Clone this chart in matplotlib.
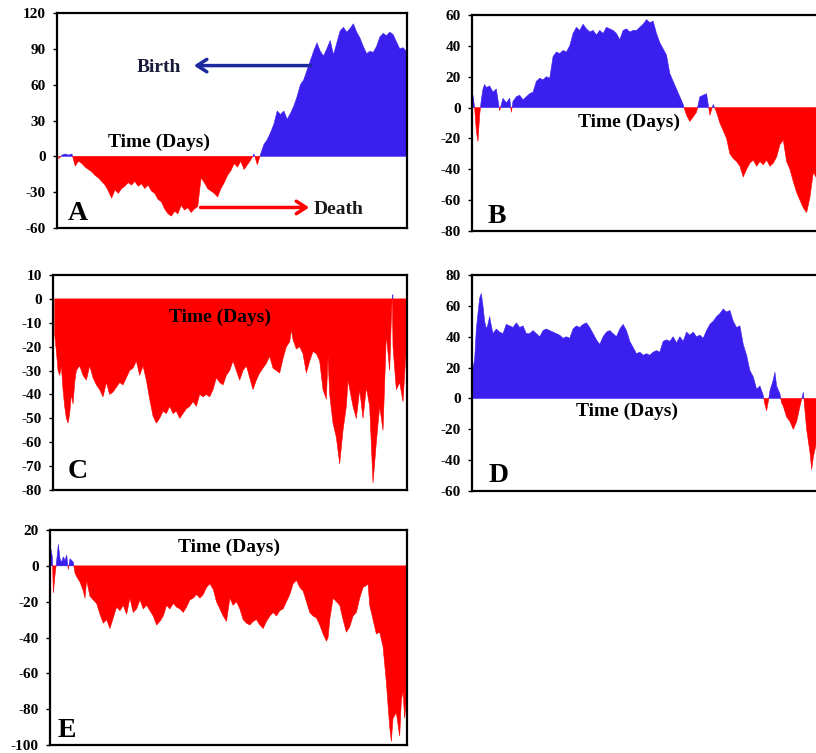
import numpy as np
import matplotlib
matplotlib.use("Agg")
import matplotlib.pyplot as plt

plt.rcParams['font.family'] = ['Liberation Serif', 'DejaVu Serif']
plt.rcParams['axes.unicode_minus'] = False

# ---- data (t = time position, v = net value) ----
a_t = list(range(170, 1221, 10))
a_v = [-2, 1, 2, 1, 2, -8, -4, -6, -9, -11, -13, -16, -18, -21, -24, -29, -35, -28,
       -31, -27, -25, -22, -24, -21, -25, -23, -27, -24, -29, -31, -36, -38, -44, -48,
       -50, -46, -48, -41, -45, -43, -47, -44, -42, -18, -22, -27, -29, -31, -34, -27,
       -22, -16, -12, -6, -9, -4, -11, -7, -3, 2, -7, 2, 10, 14, 20, 27, 38, 35, 38,
       31, 36, 42, 50, 60, 64, 72, 80, 88, 95, 88, 84, 90, 97, 85, 95, 105, 108, 104,
       107, 111, 104, 99, 92, 86, 88, 87, 92, 100, 103, 101, 104, 102, 96, 90, 91, 88]

b_t = [160, 165, 170, 175, 180, 185, 190, 195, 200, 210, 220, 230, 240, 250, 260, 270,
       275, 280, 290, 300, 310, 320, 330, 340, 350, 360, 370, 380, 390, 400, 410, 420,
       430, 440, 450, 460, 470, 480, 490, 500, 510, 520, 530, 540, 550, 560, 570, 580,
       590, 600, 610, 620, 630, 640, 650, 660, 670, 680, 690, 700, 710, 720, 730, 740,
       750, 760, 770, 780, 790, 800, 810, 820, 830, 840, 850, 860, 870, 880, 890, 900,
       910, 920, 930, 940, 950, 960, 970, 980, 990, 1000, 1010, 1020, 1030, 1040, 1050,
       1060, 1070, 1080, 1090, 1100, 1110, 1120, 1130, 1140, 1150, 1160, 1170, 1180, 1188]
b_v = [8, 0, -15, -22, -5, 5, 12, 15, 13, 14, 10, 12, -2, 6, 3, 6, -3, 4, 7, 8, 5, 7, 9,
       10, 17, 19, 18, 20, 19, 33, 36, 35, 37, 36, 40, 48, 52, 50, 54, 51, 49, 50, 47, 50,
       48, 52, 51, 50, 48, 44, 50, 51, 49, 50, 50, 52, 54, 57, 55, 56, 48, 42, 38, 34, 22,
       17, 12, 7, 2, -5, -9, -6, -3, 7, 8, 9, -5, 2, -3, -10, -15, -20, -30, -33, -35,
       -38, -45, -40, -36, -34, -38, -35, -37, -34, -38, -36, -32, -24, -21, -35, -40,
       -48, -55, -60, -65, -68, -58, -42, -45]

c_t = [165, 170, 175, 180, 185, 190, 195, 200, 205, 210, 215, 220, 225, 230, 240, 250,
       260, 270, 280, 290, 300, 310, 320, 330, 340, 350, 360, 370, 380, 390, 400, 410,
       420, 430, 440, 450, 460, 470, 480, 490, 500, 510, 520, 530, 540, 550, 560, 570,
       580, 590, 600, 610, 620, 630, 640, 650, 660, 670, 680, 690, 700, 710, 720, 730,
       740, 750, 760, 770, 780, 790, 800, 810, 820, 830, 840, 850, 860, 870, 875, 880,
       890, 900, 910, 920, 930, 940, 950, 960, 970, 980, 985, 990, 1000, 1010, 1020,
       1030, 1040, 1045, 1060, 1070, 1080, 1090, 1100, 1110, 1120, 1130, 1140, 1150,
       1160, 1170, 1175, 1178, 1180, 1190, 1200, 1210, 1220]
c_v = [-15, -22, -30, -32, -28, -38, -45, -50, -52, -48, -40, -44, -35, -30, -28, -32,
       -34, -28, -33, -36, -38, -41, -35, -40, -39, -37, -35, -36, -33, -30, -29, -26,
       -32, -28, -34, -42, -49, -52, -50, -47, -48, -45, -48, -47, -50, -48, -46, -45,
       -43, -45, -40, -41, -40, -41, -38, -33, -35, -36, -32, -30, -26, -30, -34, -30,
       -28, -33, -38, -34, -31, -29, -27, -24, -29, -30, -31, -25, -20, -18, -13, -17,
       -21, -20, -23, -31, -26, -22, -23, -26, -38, -42, -24, -40, -52, -58, -69, -55,
       -45, -34, -45, -50, -38, -50, -37, -45, -77, -60, -45, -55, -15, -30, -8, 2, -20,
       -38, -35, -43, -20]

d_t = [160, 165, 170, 175, 180, 185, 190, 195, 200, 205, 210, 215, 220, 230, 240, 250,
       260, 270, 280, 290, 300, 310, 320, 330, 340, 350, 360, 370, 380, 390, 400, 410,
       420, 430, 440, 450, 460, 470, 480, 490, 500, 510, 520, 530, 540, 550, 560, 570,
       580, 590, 600, 610, 620, 630, 640, 650, 660, 670, 680, 690, 700, 710, 720, 730,
       740, 750, 760, 770, 780, 790, 800, 810, 820, 830, 840, 850, 860, 870, 880, 890,
       900, 910, 920, 930, 940, 950, 960, 970, 980, 990, 1000, 1010, 1020, 1030, 1035,
       1040, 1045, 1050, 1060, 1065, 1070, 1080, 1085, 1090, 1100, 1110, 1120, 1130,
       1140, 1150, 1160, 1170, 1175, 1180, 1188]
d_v = [20, 25, 45, 55, 65, 68, 60, 50, 45, 48, 53, 47, 42, 45, 43, 42, 48, 47, 46, 49,
       46, 47, 42, 42, 44, 42, 40, 44, 45, 44, 43, 42, 41, 39, 40, 39, 45, 47, 46, 48,
       49, 46, 42, 38, 35, 40, 43, 44, 42, 40, 45, 48, 44, 37, 33, 29, 30, 28, 29, 28,
       30, 31, 30, 37, 38, 37, 40, 36, 40, 37, 43, 41, 43, 40, 41, 39, 44, 48, 50, 53,
       55, 58, 56, 57, 50, 46, 47, 35, 28, 18, 14, 6, 8, 2, -4, -8, -2, 5, 12, 17, 8, 3,
       -3, -5, -12, -15, -20, -15, -5, 4, -20, -35, -46, -38, -30]

e_t = [152, 157, 160, 165, 170, 175, 180, 185, 190, 195, 200, 205, 210, 215, 220, 225,
       230, 240, 250, 255, 260, 270, 280, 290, 300, 310, 320, 330, 340, 350, 360, 370,
       380, 390, 400, 410, 420, 430, 440, 450, 460, 470, 480, 490, 500, 510, 520, 530,
       540, 550, 560, 570, 580, 590, 600, 610, 620, 630, 640, 650, 660, 670, 680, 690,
       700, 710, 720, 730, 740, 750, 760, 770, 780, 790, 800, 810, 820, 830, 840, 850,
       860, 870, 880, 890, 900, 910, 920, 930, 940, 950, 960, 970, 980, 985, 990, 1000,
       1010, 1020, 1030, 1040, 1050, 1060, 1070, 1080, 1090, 1100, 1105, 1110, 1120,
       1130, 1140, 1150, 1160, 1170, 1175, 1180, 1190, 1200, 1205, 1210, 1215, 1222]
e_v = [10, 5, -15, -5, 3, 12, 4, 2, 5, 3, 6, -2, 4, 3, 2, -4, -6, -9, -14, -18, -8, -17,
       -19, -21, -27, -32, -30, -35, -29, -23, -25, -22, -27, -18, -26, -24, -19, -24,
       -22, -25, -28, -33, -31, -28, -22, -24, -21, -23, -24, -26, -23, -19, -18, -16,
       -18, -16, -12, -10, -13, -20, -24, -28, -31, -18, -22, -20, -24, -30, -32, -33,
       -31, -30, -33, -35, -31, -28, -26, -28, -25, -24, -20, -16, -10, -8, -12, -14,
       -20, -26, -28, -29, -33, -38, -42, -40, -30, -18, -20, -22, -30, -37, -34, -28,
       -26, -18, -12, -11, -10, -22, -30, -38, -37, -45, -65, -90, -98, -85, -82, -95,
       -75, -70, -85, -72]

BLUE = '#3a1fef'
RED = '#ff0000'


def panel(rect, t, v, ylim, yticks, letter, letter_pos, label_xy, open_right=False):
    ax = fig.add_axes(rect)
    t = np.array(t, dtype=float)
    v = np.array(v, dtype=float)
    ax.fill_between(t, 0, v, where=v >= 0, interpolate=True, color=BLUE, lw=0.4,
                    edgecolor=BLUE)
    ax.fill_between(t, 0, v, where=v <= 0, interpolate=True, color=RED, lw=0.4,
                    edgecolor=RED)
    ax.set_xlim(t[0], t[-1])
    ax.set_ylim(*ylim)
    ax.set_yticks(yticks)
    ax.set_xticks([])
    ax.tick_params(axis='y', direction='out', length=3, width=1, pad=5)
    for lab in ax.get_yticklabels():
        lab.set_fontweight('bold')
        lab.set_fontsize(11)
    for s in ax.spines.values():
        s.set_linewidth(1.6)
    if open_right:
        ax.spines['right'].set_visible(False)
    ax.text(label_xy[0], label_xy[1], 'Time (Days)', ha='center', va='baseline',
            fontsize=14, fontweight='bold')
    ax.text(letter_pos[0], letter_pos[1], letter, transform=ax.transAxes,
            ha='left', va='baseline', fontsize=20, fontweight='bold')
    return ax


fig = plt.figure(figsize=(8.16, 7.53), dpi=100)

axA = panel([0.0699, 0.6972, 0.4289, 0.2855], a_t, a_v, (-60, 120),
            [-60, -30, 0, 30, 60, 90, 120], 'A', (0.03, 0.035), (472, 8))
axA.set_xlim(165, 1222)
axA.text(472, 70.5, 'Birth', ha='center', va='baseline', fontsize=14,
         fontweight='bold', color='#1a1a3a')
axA.annotate('', xy=(570, 76), xytext=(940, 76),
             arrowprops=dict(arrowstyle='->,head_length=0.7,head_width=0.45',
                             color='#1c2a9e', lw=2.5))
axA.text(940, -48.4, 'Death', ha='left', va='baseline', fontsize=14,
         fontweight='bold', color='#1a1a1a')
axA.annotate('', xy=(935, -42.8), xytext=(590, -42.8),
             arrowprops=dict(arrowstyle='->,head_length=0.7,head_width=0.45',
                             color=RED, lw=2.5))

axB = panel([0.5784, 0.6932, 0.4216, 0.2869], b_t, b_v, (-80, 60),
            [-80, -60, -40, -20, 0, 20, 40, 60], 'B', (0.046, 0.037), (627, -12.5),
            open_right=True)
axB.set_xlim(157, 1188)

axC = panel([0.0650, 0.3493, 0.4338, 0.2855], c_t, c_v, (-80, 10),
            [-80, -70, -60, -50, -40, -30, -20, -10, 0, 10], 'C', (0.042, 0.056),
            (660, -9.5))
axC.set_xlim(160, 1222)

axD = panel([0.5784, 0.3479, 0.4216, 0.2869], d_t, d_v, (-60, 80),
            [-60, -40, -20, 0, 20, 40, 60, 80], 'D', (0.047, 0.042), (622, -11.5),
            open_right=True)
axD.set_xlim(157, 1188)

axE = panel([0.0613, 0.0106, 0.4375, 0.2855], e_t, e_v, (-100, 20),
            [-100, -80, -60, -40, -20, 0, 20], 'E', (0.022, 0.037), (688, 7.9))
axE.set_xlim(150, 1222)

fig.savefig('out.png', dpi=100)
